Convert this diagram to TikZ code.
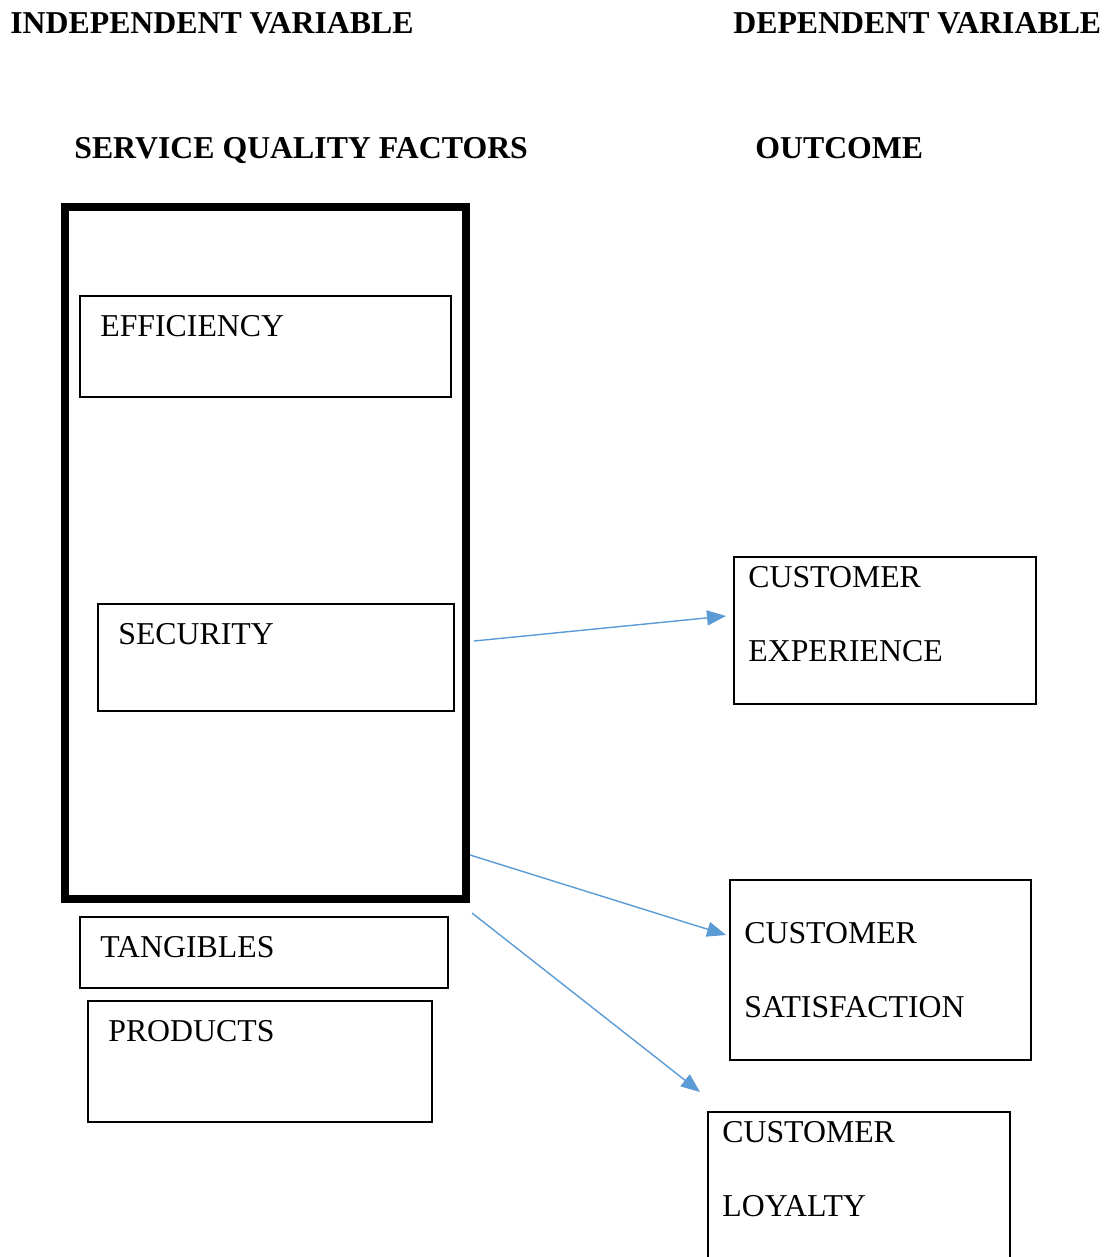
\documentclass[tikz,border=0pt]{standalone}
\usepackage{fontspec}
\setmainfont{Liberation Serif}
\usepackage{tikz}
\usetikzlibrary{arrows.meta}
\definecolor{linkblue}{HTML}{5B9BD5}

\begin{document}
\begin{tikzpicture}[x=0.02cm,y=-0.02cm,
		txt/.style={anchor=base west,inner sep=0pt,font=\fontsize{18.1}{21}\selectfont},
		hdr/.style={txt,font=\fontsize{18.1}{21}\selectfont\bfseries},
		box/.style={line width=1.1pt},
		arr/.style={draw=linkblue,line width=0.8pt,-{Triangle[length=0.38cm,width=0.3cm]}}]
			\useasboundingbox (0,0) rectangle (1118,1257);
			\clip (0,0) rectangle (1118,1257);
			% column headings
			\node[hdr] (indep) at (10,34) {INDEPENDENT VARIABLE};
			\node[hdr] (dep) at (733,34) {DEPENDENT VARIABLE};
			\node[hdr] (sqf) at (74,158) {SERVICE QUALITY FACTORS};
			\node[hdr] (outc) at (755,158) {OUTCOME};
			% factors
			\draw[line width=4.5pt] (65,207) rectangle (466,899);
			\foreach \name/\xa/\ya/\xb/\yb/\txt in {eff/80/296/451/397/EFFICIENCY, sec/98/604/454/711/SECURITY, tan/80/917/448/988/TANGIBLES, prod/88/1001/432/1122/PRODUCTS}{
				\draw[box] (\xa,\ya) rectangle (\xb,\yb);
				\node[txt] (\name) at (\xa+20,\ya+40) {\txt};
			}
			% outcomes
			\draw[box] (734,557) rectangle (1036,704);
			\node[txt] (exp1) at (748,587) {CUSTOMER};
			\node[txt] (exp2) at (748,661) {EXPERIENCE};
			\draw[box] (730,880) rectangle (1031,1060);
			\node[txt] (sat1) at (744,943) {CUSTOMER};
			\node[txt] (sat2) at (744,1017) {SATISFACTION};
			\draw[box] (708,1112) rectangle (1010,1300);
			\node[txt] (loy1) at (722,1142) {CUSTOMER};
			\node[txt] (loy2) at (722,1216) {LOYALTY};
			% links
			\coordinate (s1) at (474,641);
			\coordinate (t1) at (726,616);
			\coordinate (s2) at (470,855);
			\coordinate (t2) at (726,935);
			\coordinate (s3) at (472,913);
			\coordinate (t3) at (700,1092);
			\foreach \i in {1,2,3}{
				\draw[arr] (s\i) -- (t\i);
			}
		\end{tikzpicture}
\end{document}
